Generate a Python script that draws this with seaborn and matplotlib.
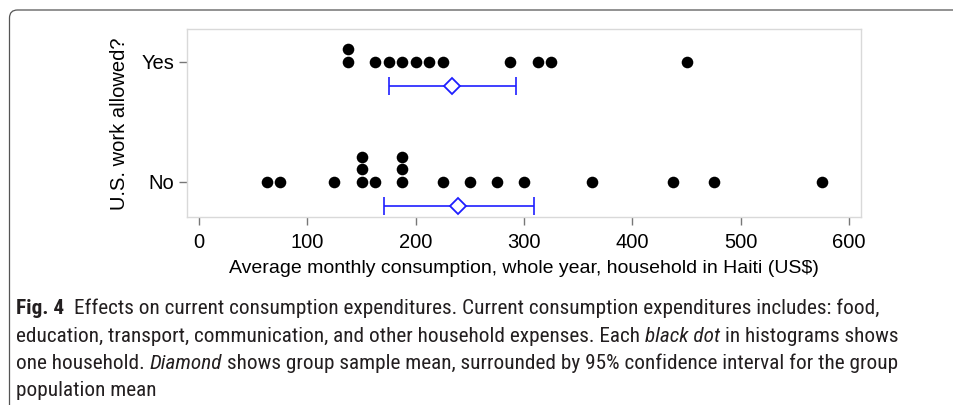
import numpy as np
import pandas as pd
import matplotlib
matplotlib.use("Agg")
import matplotlib.pyplot as plt
import seaborn as sns
from matplotlib import font_manager
from matplotlib.patches import FancyBboxPatch

# ---------------- data ----------------
groups = ["No", "Yes"]
no_values = [62.5, 75, 125, 150, 150, 150, 162.5, 187.5, 187.5, 187.5,
             225, 250, 275, 300, 362.5, 437.5, 475, 575]
yes_values = [137.5, 137.5, 162.5, 175, 187.5, 200, 212.5, 225,
              287.5, 312.5, 325, 450]
group_means = [239.5, 233.5]
ci_low = [170.5, 175.0]
ci_high = [309.0, 292.5]
x_ticks = [0, 100, 200, 300, 400, 500, 600]
x_label = "Average monthly consumption, whole year, household in Haiti (US$)"
y_label = "U.S. work allowed?"
caption_lines = [
    [("Fig. 4", "bold", "normal"), ("  ", None, None),
     ("Effects on current consumption expenditures. Current consumption expenditures includes: food,", "normal", "normal")],
    [("education, transport, communication, and other household expenses. Each", "normal", "normal"), (" ", None, None),
     ("black dot", "normal", "italic"), (" ", None, None),
     ("in histograms shows", "normal", "normal")],
    [("one household.", "normal", "normal"), (" ", None, None),
     ("Diamond", "normal", "italic"), (" ", None, None),
     ("shows group sample mean, surrounded by 95% confidence interval for the group", "normal", "normal")],
    [("population mean", "normal", "normal")],
]

# ---------------- figure ----------------
W, H = 954, 405
sns.set_style("white")
plt.rcParams["font.family"] = ["Liberation Sans", "DejaVu Sans"]

fig = plt.figure(figsize=(W / 100, H / 100), dpi=100)
ax = fig.add_axes([186.7 / W, 1 - 217.3 / H, (860.7 - 186.7) / W, (217.3 - 29.3) / H])

# stacked dot positions
rows = []
for gi, vals in enumerate([no_values, yes_values]):
    seen = {}
    for v in vals:
        k = seen.get(v, 0)
        seen[v] = k + 1
        rows.append({"group": groups[gi], "value": v, "ypos": gi + k * 0.1025})
df = pd.DataFrame(rows)

sns.scatterplot(data=df, x="value", y="ypos", color="black", s=70,
                linewidth=0, ax=ax, legend=False, zorder=3)

blue = "#1f1fff"
ypos_ci = [i - 0.2 for i in range(len(groups))]
means = np.array(group_means)
xerr = [means - np.array(ci_low), np.array(ci_high) - means]
ax.errorbar(means, ypos_ci, xerr=xerr, fmt="none", ecolor=blue,
            elinewidth=1.2, capsize=6.5, capthick=1.2, zorder=2)
ax.plot(means, ypos_ci, linestyle="none", marker="D", markersize=8.5,
        markerfacecolor="white", markeredgecolor=blue, markeredgewidth=1.3, zorder=4)

ax.set_xlim(-11.4, 610.8)
ax.set_ylim(-0.297, 1.27)
ax.set_xticks(x_ticks)
ax.set_xticklabels([str(t) for t in x_ticks])
ax.set_yticks(range(len(groups)))
ax.set_yticklabels(groups)
for sp in ax.spines.values():
    sp.set_visible(True)
    sp.set_color("#d9d9d9")
    sp.set_linewidth(1.0)
ax.tick_params(axis="both", direction="out", length=6, width=1.0,
               color="#777777", labelsize=14.5, labelcolor="black",
               bottom=True, left=True, top=False, right=False)
ax.tick_params(axis="x", pad=5)
ax.tick_params(axis="y", pad=3)
ax.set_xlabel(x_label, fontsize=14, labelpad=6, color="black")
ax.set_ylabel(y_label, fontsize=14.5, labelpad=9, color="black")
ax.grid(False)

# ---------------- outer rounded frame ----------------
frame = FancyBboxPatch((9.5, -20), 980, H - 10 + 20,
                       boxstyle="round,pad=0,rounding_size=8",
                       transform=None, fill=False, edgecolor="#555555",
                       linewidth=0.9, clip_on=False)
fig.add_artist(frame)

# ---------------- caption ----------------
avail = {f.name for f in font_manager.fontManager.ttflist}
cap_family = None
cap_stretch = "normal"
for name in ["Liberation Sans Narrow", "Roboto Condensed", "Open Sans Condensed",
             "Noto Sans Condensed", "DejaVu Sans Condensed"]:
    if name in avail:
        cap_family = name
        break
if cap_family is None:
    if any(f.name == "Noto Sans" and str(f.stretch) in ("condensed", "semi-condensed")
           for f in font_manager.fontManager.ttflist):
        cap_family, cap_stretch = "Noto Sans", "condensed"
    elif any(f.name == "DejaVu Sans" and str(f.stretch) in ("condensed", "semi-condensed")
             for f in font_manager.fontManager.ttflist):
        cap_family, cap_stretch = "DejaVu Sans", "condensed"
    else:
        cap_family = "Roboto"

renderer = fig.canvas.get_renderer()
cap_color = "#231f20"


def _width(text, size, weight, style):
    t = fig.text(0, 0, text, fontsize=size, family=[cap_family, "DejaVu Sans"],
                 weight=weight, style=style, stretch=cap_stretch)
    w = t.get_window_extent(renderer).width
    t.remove()
    return w


def space_width(size):
    return _width("a a", size, "normal", "normal") - _width("aa", size, "normal", "normal")


def line_width(segs, size):
    sw = space_width(size)
    total = 0.0
    for txt, wt, st in segs:
        total += sw * len(txt) if wt is None else _width(txt, size, wt, st)
    return total


def draw_line(segs, x_px, base_px, size):
    sw = space_width(size)
    x = x_px
    for txt, wt, st in segs:
        if wt is None:
            x += sw * len(txt)
            continue
        t = fig.text(x / W, 1 - base_px / H, txt, fontsize=size,
                     family=[cap_family, "DejaVu Sans"], weight=wt, style=st,
                     stretch=cap_stretch, ha="left", va="baseline", color=cap_color)
        x += t.get_window_extent(renderer).width


left_px = 16
line_ends = [862, 873, 940]
ref_size = 12.0
nat = sum(line_width(caption_lines[i], ref_size) for i in range(3))
target = sum(e - left_px for e in line_ends)
cap_size = ref_size * target / nat
baselines = [314, 341.5, 369, 396.5]
for segs, b in zip(caption_lines, baselines):
    draw_line(segs, left_px, b, cap_size)

fig.savefig("out.png", dpi=100)
